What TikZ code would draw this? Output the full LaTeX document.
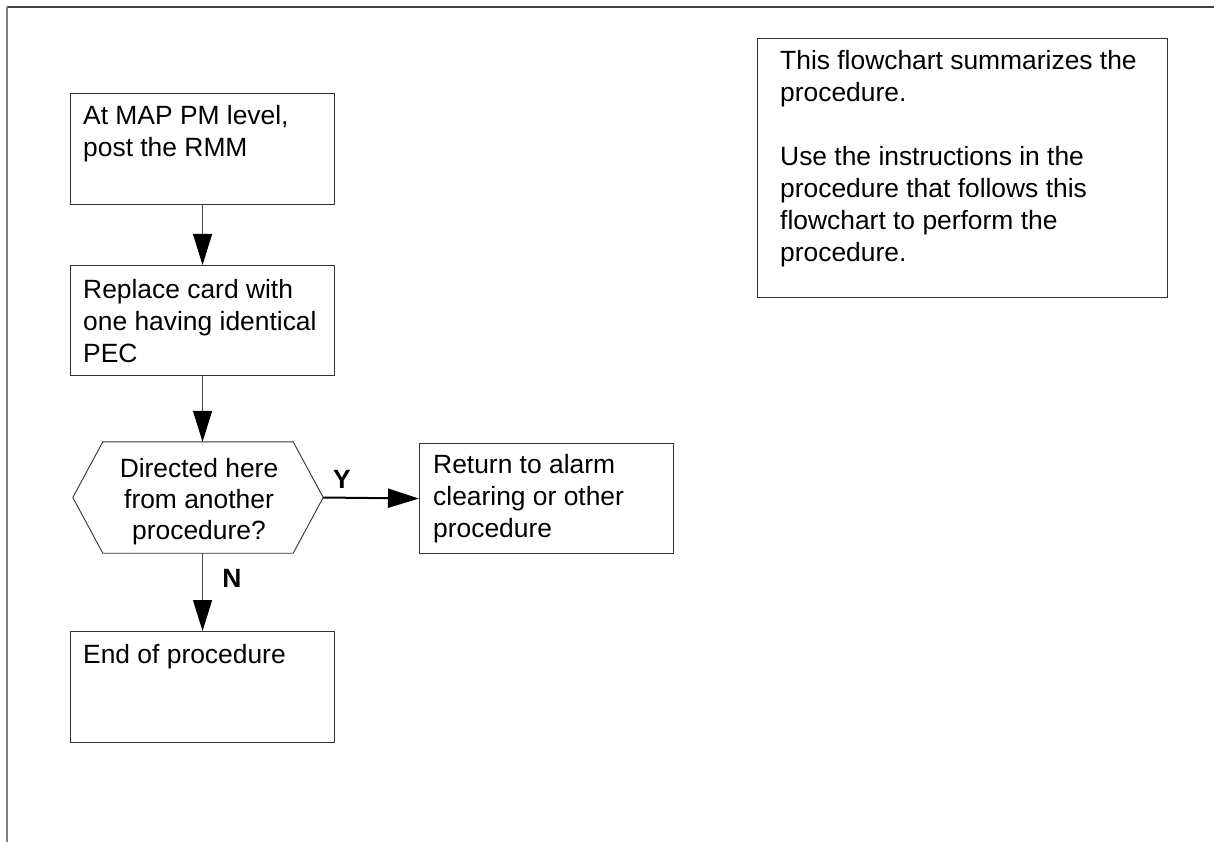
\documentclass[tikz,border=0pt]{standalone}
\usepackage{fontspec}
\setmainfont{Liberation Sans}
\usetikzlibrary{arrows.meta}
\tikzset{
  box/.style={draw=black!80, line width=1.1pt, rectangle, inner sep=0pt, anchor=north west},
  txt/.style={inner sep=0pt, anchor=base west, font=\fontsize{26.4}{32}\selectfont},
  ctxt/.style={inner sep=0pt, anchor=base, font=\fontsize{26.4}{31}\selectfont},
  conn/.style={draw=black!70, line width=1.2pt, -{Triangle[length=31pt,width=19pt,black]}},
  yconn/.style={conn, draw=black, line width=2pt},
  lab/.style={inner sep=0pt, anchor=base, font=\fontsize{26.4}{32}\selectfont\bfseries},
}
\begin{document}
\begin{tikzpicture}[x=1pt, y={(0pt,-1pt)}]
\useasboundingbox (0,0) rectangle (1214,842);
% frame
\draw[black!75, line width=1.5pt] (7,7) -- (1214,7);
\draw[black!50, line width=2pt] (7,7) -- (7,842);

% boxes
\node[box, minimum width=264pt, minimum height=111pt] (b1) at (70,93) {};
\node[box, minimum width=264pt, minimum height=110pt] (b2) at (70,265) {};
\node[box, minimum width=254pt, minimum height=110pt] (b3) at (419,443) {};
\node[box, minimum width=264pt, minimum height=111pt] (b4) at (70,631) {};
\node[box, minimum width=410pt, minimum height=259pt] (note) at (757,38) {};

% decision hexagon
\node[inner sep=0pt, minimum width=250pt, minimum height=111pt] (dec) at (198,497.5) {};
\draw[black!80, line width=0.9pt] (dec.west) -- ([xshift=30pt]dec.north west) -- ([xshift=-30pt]dec.north east)
  -- (dec.east) -- ([xshift=-30pt]dec.south east) -- ([xshift=30pt]dec.south west) -- cycle;

% texts
\node[txt] (t1) at (83,125) {\parbox[t]{245pt}{\raggedright At MAP PM level,\\post the RMM}};
\node[txt] (t2) at (83,298) {\parbox[t]{245pt}{\raggedright Replace card with\\one having identical\\PEC}};
\node[ctxt] (td) at (199,477) {\parbox[t]{240pt}{\centering Directed here\\from another\\procedure?}};
\node[txt] (t3) at (433,473) {\parbox[t]{235pt}{\raggedright Return to alarm\\clearing or other\\procedure}};
\node[txt] (t4) at (83,663) {\parbox[t]{245pt}{\raggedright End of procedure}};
\node[txt] (tn) at (780,70) {\parbox[t]{380pt}{\raggedright This flowchart summarizes the\\procedure.\\[32pt]Use the instructions in the\\procedure that follows this\\flowchart to perform the\\procedure.}};

% connectors
\draw[conn] (b1.south) -- (b2.north);
\draw[conn] (b2.south) -- (b2.south |- dec.north);
\draw[yconn] (dec.east) -- (b3.west);
\draw[conn] (b2.south |- dec.south) -- (b4.north);

% branch labels
\node[lab] (ly) at (342,488) {Y};
\node[lab] (ln) at (232,587) {N};
\end{tikzpicture}
\end{document}
